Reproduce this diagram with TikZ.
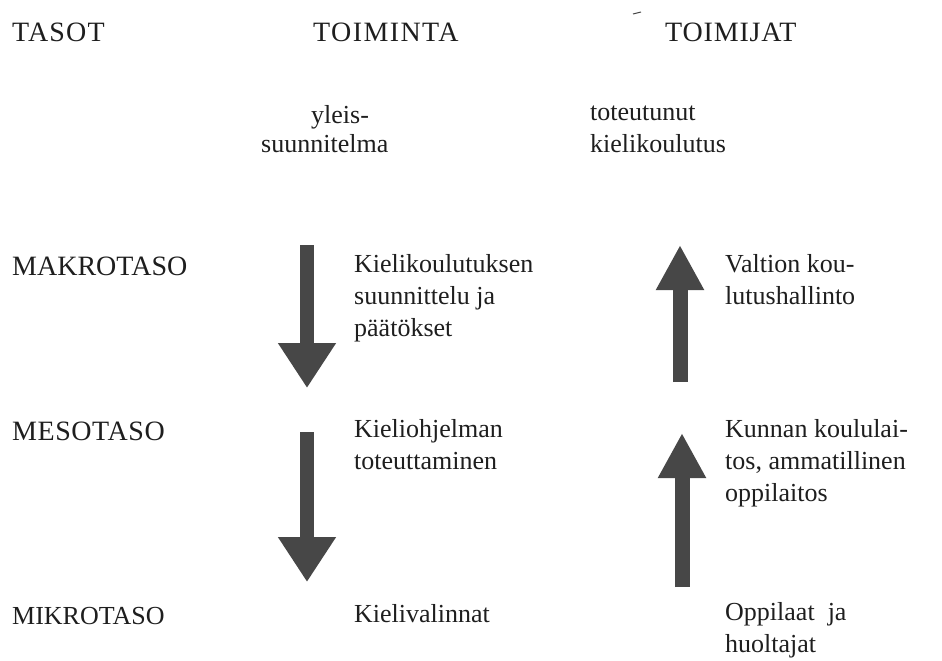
\documentclass[tikz,border=0pt]{standalone}
\usepackage{fontspec}
\setmainfont{Liberation Serif}
\usetikzlibrary{arrows.meta}
\definecolor{ink}{HTML}{1E1E1E}
\definecolor{arrowgray}{HTML}{474747}
\newcommand{\tracked}[2]{{\fontsize{28}{32}\selectfont\addfontfeatures{LetterSpace=#1}#2}}
\begin{document}
\begin{tikzpicture}[x=1pt,y=-1pt,
  lbl/.style={font=\fontsize{26}{32}\selectfont, text=ink, inner sep=0pt, anchor=base west, align=left},
  bigdown/.style={draw=arrowgray, line width=14pt, -{Triangle[width=55pt,length=45pt]}},
  bigup/.style={draw=arrowgray, line width=15pt, -{Triangle[width=45pt,length=45pt]}}]
\useasboundingbox (0,0) rectangle (942,661);

% column headings
\node[lbl] (tasot) at (12,42) {\tracked{4}{TASOT}};
\node[lbl] (toiminta) at (313,42) {\tracked{5}{TOIMINTA}};
\node[lbl] (toimijat) at (665,42) {\tracked{3}{TOIMIJAT}};
\draw[arrowgray, line width=1pt] (633,14) coordinate (m1) -- (641,12) coordinate (m2);

% top of the two columns (multi-line nodes are placed by their last baseline)
\node[lbl] (yleis) at (311,123) {yleis-};
\node[lbl] (yleis2) at (261,152) {suunnitelma};
\node[lbl] (toteutunut) at (590,152) {toteutunut\\kielikoulutus};

% levels
\node[lbl] (makro) at (12,275) {\tracked{0}{MAKROTASO}};
\node[lbl] (meso) at (12,440) {\tracked{2}{MESOTASO}};
\node[lbl] (mikro) at (12,624) {MIKROTASO};

% action column
\node[lbl] (suunnittelu) at (354,336) {Kielikoulutuksen\\suunnittelu ja\\päätökset};
\node[lbl] (ohjelma) at (354,469) {Kieliohjelman\\toteuttaminen};
\node[lbl] (valinnat) at (354,622) {Kielivalinnat};

% actor column
\node[lbl] (valtio) at (725,304) {Valtion kou-\\lutushallinto};
\node[lbl] (kunta) at (725,501) {Kunnan koululai-\\tos, ammatillinen\\oppilaitos};
\node[lbl] (oppilaat) at (725,652) {Oppilaat\ \ ja\\huoltajat};

% block arrows
\coordinate (d1s) at (307,245); \coordinate (d1e) at (307,388);
\coordinate (d2s) at (307,432); \coordinate (d2e) at (307,582);
\coordinate (u1s) at (680,382); \coordinate (u1e) at (680,245);
\coordinate (u2s) at (682,587); \coordinate (u2e) at (682,433);
\draw[bigdown] (d1s) -- (d1e);
\draw[bigdown] (d2s) -- (d2e);
\draw[bigup] (u1s) -- (u1e);
\draw[bigup] (u2s) -- (u2e);
\end{tikzpicture}
\end{document}
